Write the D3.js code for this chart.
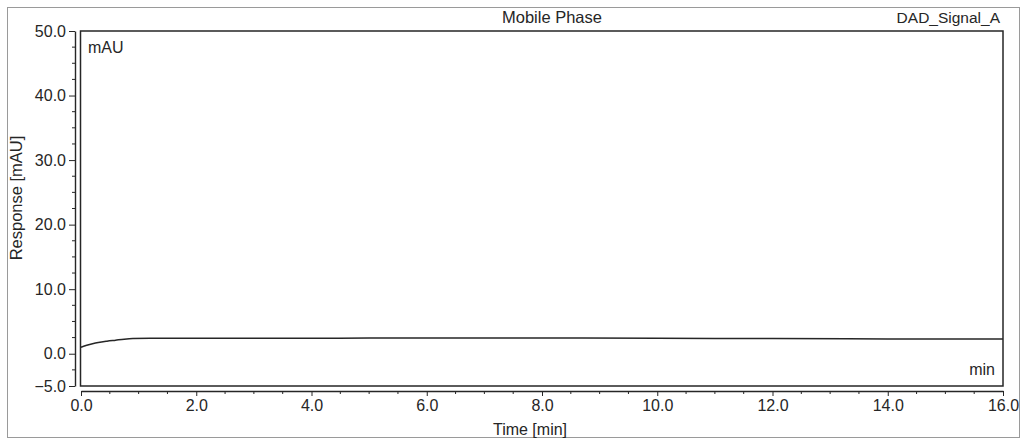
<!DOCTYPE html>
<html>
<head>
<meta charset="utf-8">
<script src="https://cdn.jsdelivr.net/npm/d3@7"></script>
<style>
  html, body { margin: 0; padding: 0; background: #fff; }
  svg { display: block; font-family: "Liberation Sans", Arial, sans-serif; }
</style>
</head>
<body>
<svg id="chart" width="1022" height="443"></svg>
<script>
// ---- data ----
const times = [0, 0.1, 0.2, 0.3, 0.45, 0.6, 0.75, 0.9, 1.2, 2, 3, 4, 6, 8, 10, 12, 14, 16];
const response = [1.0, 1.3, 1.55, 1.75, 1.95, 2.1, 2.25, 2.35, 2.4, 2.4, 2.4, 2.4, 2.45, 2.45, 2.4, 2.35, 2.3, 2.3];
const xTicks = [0, 2, 4, 6, 8, 10, 12, 14, 16];
const yTicks = [-5, 0, 10, 20, 30, 40, 50];
const title = "Mobile Phase";
const signalName = "DAD_Signal_A";
const xLabel = "Time [min]";
const yLabel = "Response [mAU]";

const svg = d3.select("#chart");
const ink = "#262626";

const x = d3.scaleLinear().domain([0, 16]).range([81, 1003]);
const y = d3.scaleLinear().domain([-5, 50]).range([386, 31]);

// outer frame
svg.append("rect").attr("x", 7.5).attr("y", 7.5).attr("width", 1012).attr("height", 430)
  .attr("fill", "none").attr("stroke", "#9a9a9a").attr("stroke-width", 1);

// plot frame
svg.append("rect").attr("x", x(0) - 0.5).attr("y", y(50)).attr("width", x(16) - x(0) + 0.5).attr("height", y(-5) - y(50))
  .attr("fill", "none").attr("stroke", ink).attr("stroke-width", 1.5);

// y axis (separate, offset left)
const yAxisG = svg.append("g").attr("transform", "translate(75,0)");
yAxisG.call(d3.axisLeft(y).tickValues(yTicks).tickFormat(d3.format(".1f")).tickSize(6).tickSizeOuter(0));
const yMinor = d3.range(-5, 50.01, 2.5).filter(v => !yTicks.includes(v));
yAxisG.selectAll("line.minor").data(yMinor).enter().append("line").attr("class", "minor")
  .attr("x1", 0).attr("x2", -3).attr("y1", d => y(d)).attr("y2", d => y(d)).attr("stroke", ink);

// x axis (separate, offset below)
const xAxisG = svg.append("g").attr("transform", "translate(0,391)");
xAxisG.call(d3.axisBottom(x).tickValues(xTicks).tickFormat(d3.format(".1f")).tickSize(5).tickSizeOuter(0));
const xMinor = d3.range(0, 16.01, 0.5).filter(v => !xTicks.includes(v));
xAxisG.selectAll("line.minor").data(xMinor).enter().append("line").attr("class", "minor")
  .attr("y1", 0).attr("y2", 3).attr("x1", d => x(d)).attr("x2", d => x(d)).attr("stroke", ink);

[yAxisG, xAxisG].forEach(g => {
  g.select(".domain").attr("stroke", ink).attr("stroke-width", 1.4);
  g.selectAll(".tick line").attr("stroke", ink);
  g.selectAll("text").attr("fill", ink).attr("font-size", 16).attr("font-family", "Liberation Sans, Arial, sans-serif");
});
yAxisG.selectAll(".tick text").attr("x", -9);
xAxisG.selectAll(".tick text").attr("y", 9);

// trace
const line = d3.line().x((d, i) => x(times[i])).y(d => y(d)).curve(d3.curveMonotoneX);
svg.append("path").datum(response).attr("d", line)
  .attr("fill", "none").attr("stroke", ink).attr("stroke-width", 1.5);

// texts
svg.append("text").attr("x", 552).attr("y", 23).attr("text-anchor", "middle")
  .attr("font-size", 16.5).attr("fill", ink).text(title);
svg.append("text").attr("x", 1000).attr("y", 23).attr("text-anchor", "end")
  .attr("font-size", 15.5).attr("fill", ink).text(signalName);
svg.append("text").attr("x", 88).attr("y", 53).attr("font-size", 16).attr("fill", ink).text("mAU");
svg.append("text").attr("x", 995).attr("y", 375).attr("text-anchor", "end")
  .attr("font-size", 16).attr("fill", ink).text("min");
svg.append("text").attr("x", 530).attr("y", 435).attr("text-anchor", "middle")
  .attr("font-size", 16).attr("fill", ink).text(xLabel);
svg.append("text").attr("transform", "translate(22,198) rotate(-90)").attr("text-anchor", "middle")
  .attr("font-size", 16.5).attr("fill", ink).text(yLabel);
</script>
</body>
</html>
